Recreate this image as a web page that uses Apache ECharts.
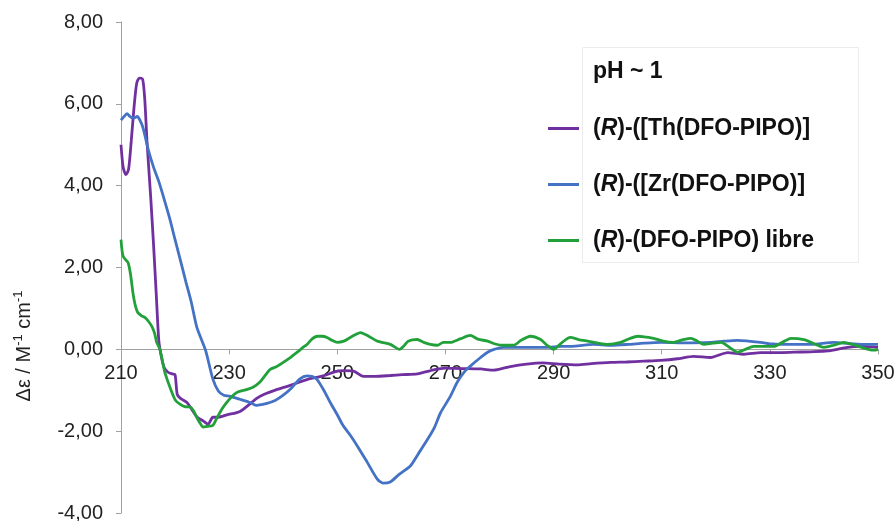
<!DOCTYPE html>
<html><head><meta charset="utf-8">
<script src="https://cdn.jsdelivr.net/npm/echarts@6/dist/echarts.min.js"></script>
<style>html,body{margin:0;padding:0;background:#fff}#c{width:896px;height:521px}</style>
</head><body><div id="c"></div>
<script>
// (R)-([Th(DFO-PIPO)]
const thWl = [210,210.4,210.9,211.4,211.9,212.4,212.9,213.4,214.0,214.4,214.8,215.5,216.0,216.5,217.0,217.5,218,218.7,219.5,220,220.4,221,222.2,223,224.1,225.2,226.1,227,228,229.6,232,235.1,236.5,238.9,241.3,244.4,247.4,249.5,251.1,253,254.8,257,259.8,262,264.8,267.8,270,272.8,276.5,278.9,282,285,288,291,294.4,297,300.6,303.5,306.7,309.8,312.9,315.9,319,322.2,325.2,328.3,331.5,334.5,337.5,340.7,344.4,346.9,350];
const thDe = [5.0,4.45,4.27,4.4,5.1,5.9,6.5,6.63,6.6,6.1,5.1,3.7,2.6,1.4,0.2,-0.2,-0.45,-0.56,-0.6,-0.62,-1.1,-1.2,-1.3,-1.45,-1.66,-1.75,-1.83,-1.66,-1.66,-1.6,-1.52,-1.2,-1.1,-0.98,-0.88,-0.74,-0.65,-0.55,-0.52,-0.53,-0.66,-0.66,-0.64,-0.62,-0.6,-0.5,-0.46,-0.47,-0.48,-0.51,-0.42,-0.36,-0.33,-0.36,-0.38,-0.35,-0.32,-0.31,-0.29,-0.27,-0.23,-0.17,-0.2,-0.08,-0.12,-0.08,-0.08,-0.07,-0.06,-0.04,0.05,0.07,0.05];

// (R)-([Zr(DFO-PIPO)]
const zrWl = [210,210.5,211.1,211.6,212,212.5,213,213.5,214.1,215,216,217,217.8,219,220,221,222,223,224,225,225.7,227,228,229,230.2,232,233.9,235.1,236,237,238.5,240,241.5,243.1,244.4,245.3,246.2,247.5,248.7,250,251.1,252.4,253.7,255.5,257.4,258.5,259.8,261.5,263.5,265,266.7,268,269.1,270.9,272.2,273.5,274.6,276.5,277.8,279,280.7,285.2,288,291.3,294,297.4,300.5,303.7,306.7,309.8,314,319,321.5,324,326,328.3,330.5,333.3,337.6,341.9,344.5,346.9,350];
const zrDe = [5.6,5.68,5.76,5.7,5.66,5.66,5.69,5.6,5.4,4.9,4.46,4.1,3.75,3.2,2.68,2.17,1.65,1.15,0.55,0.2,-0.05,-0.73,-1.02,-1.12,-1.15,-1.22,-1.3,-1.37,-1.35,-1.32,-1.25,-1.12,-0.95,-0.72,-0.65,-0.66,-0.73,-1.0,-1.3,-1.6,-1.87,-2.1,-2.36,-2.75,-3.17,-3.27,-3.24,-3.05,-2.85,-2.55,-2.2,-1.9,-1.55,-1.15,-0.8,-0.55,-0.41,-0.2,-0.07,0.0,0.05,0.05,0.05,0.07,0.08,0.12,0.1,0.12,0.15,0.17,0.16,0.17,0.2,0.22,0.2,0.17,0.13,0.12,0.12,0.17,0.14,0.12,0.12];

// (R)-(DFO-PIPO) libre
const libWl = [210,210.4,211.3,211.8,212.2,212.6,213.1,213.8,214.4,215.1,215.7,216.2,216.6,217.2,218.1,219.4,220.1,220.9,221.8,222.8,223.4,224,224.6,225.2,226,226.9,227.8,228.7,229.6,230.5,231.5,233.3,234.5,235.7,236.6,237.6,238.8,240,241.3,242.6,243.5,244.4,245.3,246.3,247.2,248.1,249,250,251.2,252.4,253.4,254.3,255.8,257.4,259.8,260.6,261.5,262.3,263.1,264.8,266,267.2,268.5,269.6,270.9,272.8,274.6,276,277.8,279.2,280.7,282.6,284,285.7,287.6,288.8,290,291.5,293.1,294.6,296.3,298,300,302.4,304,305.6,307,308.5,310.3,312.2,313.8,315.4,316.6,317.8,319.4,321,322.5,324,325.5,327,330.7,332.3,333.9,336.3,338,340,341.8,343.7,345.3,346.9,348.2,349.3,350];
const libDe = [2.68,2.27,2.12,1.8,1.39,1.1,0.9,0.82,0.78,0.68,0.56,0.4,0.17,0.0,-0.56,-1.05,-1.25,-1.34,-1.4,-1.41,-1.5,-1.66,-1.8,-1.9,-1.88,-1.87,-1.66,-1.45,-1.29,-1.15,-1.05,-0.98,-0.92,-0.8,-0.65,-0.49,-0.42,-0.32,-0.2,-0.07,0.03,0.12,0.25,0.32,0.32,0.29,0.22,0.17,0.2,0.29,0.36,0.41,0.32,0.2,0.12,0.06,0.0,0.08,0.2,0.24,0.17,0.12,0.1,0.17,0.17,0.26,0.34,0.25,0.2,0.13,0.1,0.1,0.22,0.32,0.24,0.1,0.0,0.16,0.29,0.24,0.2,0.16,0.12,0.17,0.26,0.32,0.3,0.27,0.2,0.17,0.23,0.27,0.2,0.12,0.15,0.17,0.05,-0.07,0.0,0.07,0.07,0.17,0.27,0.24,0.15,0.05,0.1,0.17,0.12,0.05,0.0,-0.02,0.0];

const seriesNames = ['(R)-([Th(DFO-PIPO)]', '(R)-([Zr(DFO-PIPO)]', '(R)-(DFO-PIPO) libre'];
const seriesColors = ['#7030A0', '#4472C4', '#22A13A'];
const legendTitle = 'pH ~ 1';
const xMin = 210, xMax = 350, xStep = 20;
const yMin = -4, yMax = 8, yStep = 2;

const FONT = '"Liberation Sans", Arial, Helvetica, sans-serif';
const pairs = (a, b) => a.map((x, i) => [x, b[i]]);
const dataSets = [pairs(thWl, thDe), pairs(zrWl, zrDe), pairs(libWl, libDe)];
const GRID_BOTTOM = 8;

const chart = echarts.init(document.getElementById('c'), null, {renderer: 'canvas'});
chart.setOption({
  animation: false,
  backgroundColor: '#ffffff',
  textStyle: {fontFamily: FONT},
  grid: {left: 121, right: 18, top: 22, bottom: GRID_BOTTOM, containLabel: false, outerBoundsMode: 'none'},
  xAxis: {
    type: 'value', min: xMin, max: xMax, interval: xStep,
    position: 'bottom', offset: 0,
    axisLine: {onZero: false, lineStyle: {color: '#a0a0a0', width: 1}},
    axisTick: {show: true, inside: false, length: 5, lineStyle: {color: '#a0a0a0'}},
    axisLabel: {show: true, color: '#222', fontSize: 20, fontFamily: FONT, margin: 14},
    splitLine: {show: false}
  },
  yAxis: {
    type: 'value', min: yMin, max: yMax, interval: yStep,
    axisLine: {show: true, onZero: false, lineStyle: {color: '#a0a0a0', width: 1}},
    axisTick: {show: true, length: 5, lineStyle: {color: '#a0a0a0'}},
    axisLabel: {color: '#222', fontSize: 20, fontFamily: FONT, margin: 18,
      formatter: v => v.toFixed(2).replace('.', ',')},
    splitLine: {show: false}
  },
  legend: {
    orient: 'vertical', left: 548, top: 117, itemGap: 33, padding: 0,
    itemWidth: 31, itemHeight: 3, icon: 'rect',
    data: seriesNames,
    formatter: name => '{sp|}{b|(}{i|R}{b|' + name.slice(2) + '}',
    textStyle: {
      rich: {
        sp: {width: 9},
        b: {fontSize: 23, fontWeight: 'bold', fontFamily: FONT, color: '#111'},
        i: {fontSize: 23, fontWeight: 'bold', fontStyle: 'italic', fontFamily: FONT, color: '#111'}
      }
    }
  },
  graphic: [
    {type: 'rect', left: 582, top: 47, z: 0, silent: true,
     shape: {width: 276, height: 215},
     style: {fill: '#ffffff', stroke: '#ececec', lineWidth: 1}},
    {type: 'text', left: 593, top: 60, z: 10, silent: true,
     style: {text: legendTitle, font: 'bold 23px ' + FONT, fill: '#111'}},
    {type: 'text', x: 24, y: 346, rotation: Math.PI / 2, z: 10, silent: true,
     style: {
       text: '{n|Δε / M}{s|-1}{n| cm}{s|-1}',
       align: 'center', verticalAlign: 'middle',
       rich: {
         n: {fontSize: 20, fontFamily: FONT, fill: '#222', color: '#222', lineHeight: 24},
         s: {fontSize: 13, fontFamily: FONT, fill: '#222', color: '#222', verticalAlign: 'top', lineHeight: 13}
       }
     }}
  ],
  series: seriesNames.map((n, k) => ({
    name: n, type: 'line', data: dataSets[k],
    symbol: 'none', showSymbol: false, smooth: 0.25,
    lineStyle: {color: seriesColors[k], width: 2.8},
    itemStyle: {color: seriesColors[k]},
    z: 3 + k
  }))
});
// move the x axis (line, ticks, labels) up to the y = 0 position
const y0 = chart.convertToPixel({yAxisIndex: 0}, 0);
const gridBottomPx = chart.getHeight() - GRID_BOTTOM;
chart.setOption({xAxis: {offset: -(gridBottomPx - y0)}});
</script>
</body></html>
